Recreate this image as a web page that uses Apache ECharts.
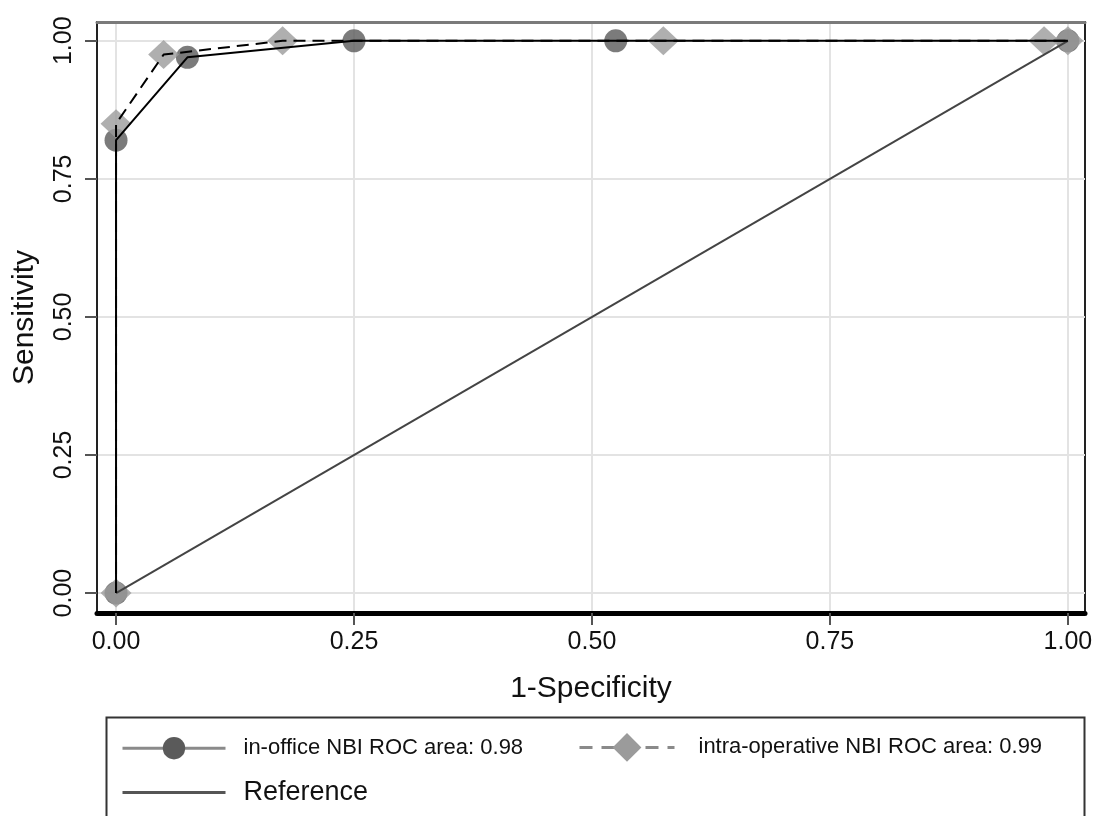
<!DOCTYPE html>
<html>
<head>
<meta charset="utf-8">
<script src="https://cdn.jsdelivr.net/npm/echarts@6/dist/echarts.min.js"></script>
<style>
  html, body { margin: 0; padding: 0; background: #fff; }
  #roc { width: 1101px; height: 816px; }
</style>
</head>
<body>
<div id="roc"></div>
<script>
  // values
  var inOfficeX = [0, 0, 0.075, 0.25, 0.525, 1]
  var inOfficeY = [0, 0.82, 0.97, 1, 1, 1]
  var intraX = [0, 0, 0.05, 0.175, 0.575, 0.975, 1]
  var intraY = [0, 0.85, 0.975, 1, 1, 1, 1]
  var refX = [0, 1]
  var refY = [0, 1]
  var tickValues = [0, 0.25, 0.5, 0.75, 1]

  var nameOffice = 'in-office NBI ROC area: 0.98'
  var nameIntra = 'intra-operative NBI ROC area: 0.99'
  var nameRef = 'Reference'

  function pairs(xs, ys) {
    let out = []
    for (let i = 0; i < xs.length; i++) out.push([xs[i], ys[i]])
    return out
  }

  var font = '"Liberation Sans", Arial, Helvetica, sans-serif'
  var mychart = echarts.init(document.getElementById('roc'))

  mychart.setOption({
    backgroundColor: '#fff',
    animation: false,
    textStyle: { fontFamily: font },
    grid: { left: 97, right: 16, top: 22, bottom: 203, show: true, borderColor: '#222', borderWidth: 2 },
    legend: [
      {
        data: [nameOffice], left: 121, top: 737, itemWidth: 103, itemHeight: 28, padding: 0,
        selectedMode: false,
        lineStyle: { color: '#8a8a8a', width: 3 },
        textStyle: { fontSize: 22, color: '#111', padding: [0, 0, 0, 13], fontFamily: font }
      },
      {
        data: [nameIntra], left: 578, top: 733, itemWidth: 95, itemHeight: 36, padding: 0,
        selectedMode: false,
        lineStyle: { color: '#8a8a8a', width: 3, type: [13, 9] },
        textStyle: { fontSize: 22, color: '#111', padding: [0, 0, 0, 19], fontFamily: font }
      },
      {
        data: [nameRef], left: 121, top: 779, itemWidth: 103, itemHeight: 28, padding: 0,
        selectedMode: false,
        lineStyle: { color: '#555', width: 3 },
        textStyle: { fontSize: 27, color: '#111', padding: [0, 0, 0, 13], fontFamily: font }
      }
    ],
    graphic: [
      {
        type: 'rect', left: 104, top: 715, z: -1,
        shape: { width: 978, height: 130 },
        style: { fill: 'none', stroke: '#333', lineWidth: 2 }
      }
    ],
    xAxis: [
      {
        type: 'value', min: -0.02, max: 1.018,
        name: '1-Specificity', nameLocation: 'middle', nameGap: 61,
        nameTextStyle: { fontSize: 30, color: '#111', fontFamily: font },
        axisLine: { show: true, onZero: false, lineStyle: { color: '#000', width: 5 } },
        axisTick: { show: true, length: 12, customValues: tickValues, lineStyle: { color: '#555', width: 2 } },
        axisLabel: {
          customValues: tickValues, margin: 17, fontSize: 25, color: '#111', fontFamily: font,
          formatter: v => v.toFixed(2)
        },
        splitLine: { show: true, lineStyle: { color: '#e3e3e3', width: 2 } }
      },
      {
        type: 'value', position: 'top', min: -0.02, max: 1.018,
        axisLine: { show: true, onZero: false, lineStyle: { color: '#7a7a7a', width: 3 } },
        axisTick: { show: false }, axisLabel: { show: false }, splitLine: { show: false }
      }
    ],
    yAxis: {
      type: 'value', min: -0.036, max: 1.034,
      name: 'Sensitivity', nameLocation: 'middle', nameGap: 57,
      nameTextStyle: { fontSize: 30, color: '#111', fontFamily: font },
      axisLine: { show: true, onZero: false, lineStyle: { color: '#222', width: 2 } },
      axisTick: { show: true, length: 12, customValues: tickValues, lineStyle: { color: '#555', width: 2 } },
      axisLabel: {
        customValues: tickValues, rotate: 90, margin: 20, fontSize: 25, color: '#111', fontFamily: font,
        formatter: v => v.toFixed(2)
      },
      splitLine: { show: true, lineStyle: { color: '#e3e3e3', width: 2 } }
    },
    series: [
      {
        name: nameOffice, type: 'line', data: pairs(inOfficeX, inOfficeY), z: 5,
        symbol: 'circle', symbolSize: 0, showSymbol: false,
        itemStyle: { color: '#5a5a5a' },
        lineStyle: { color: '#000', width: 2 }
      },
      {
        name: nameIntra, type: 'line', data: pairs(intraX, intraY), z: 5,
        symbol: 'diamond', symbolSize: 0, showSymbol: false,
        itemStyle: { color: '#9b9b9b' },
        lineStyle: { color: '#000', width: 2, type: [12, 7] }
      },
      {
        name: nameRef, type: 'line', data: pairs(refX, refY), z: 4,
        symbol: 'circle', symbolSize: 0, showSymbol: false,
        itemStyle: { color: 'rgba(0,0,0,0)' },
        lineStyle: { color: '#444', width: 2 }
      },
      {
        name: 'in-office points', type: 'scatter', data: pairs(inOfficeX, inOfficeY), z: 2,
        symbol: 'circle', symbolSize: 23,
        itemStyle: { color: '#5a5a5a' }
      },
      {
        name: 'intra-operative points', type: 'scatter', data: pairs(intraX, intraY), z: 3,
        symbol: 'diamond', symbolSize: [31, 29],
        itemStyle: { color: '#9b9b9b' }
      }
    ]
  })
</script>
</body>
</html>
